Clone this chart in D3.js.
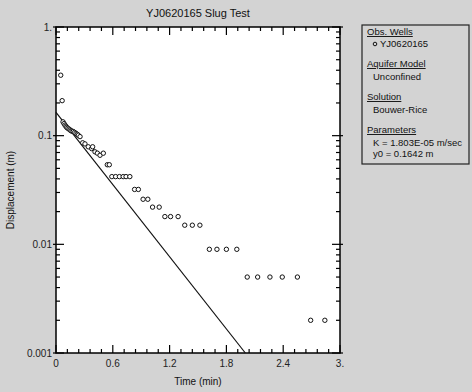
<!DOCTYPE html>
<html><head><meta charset="utf-8">
<script src="https://cdn.jsdelivr.net/npm/d3@7"></script>
<style>
html,body{margin:0;padding:0;background:#d3d3d3;}
svg{display:block;font-family:"Liberation Sans Narrow","Liberation Sans",Arial,sans-serif;}
</style></head><body>
<script>
const title = "YJ0620165 Slug Test";
const xLabel = "Time (min)";
const yLabel = "Displacement (m)";
const xTicks = [0, 0.6, 1.2, 1.8, 2.4, 3];
const xTickLabels = ["0", "0.6", "1.2", "1.8", "2.4", "3."];
const yTicks = [0.001, 0.01, 0.1, 1];
const yTickLabels = ["0.001", "0.01", "0.1", "1."];
const timeMin = [0.05, 0.065, 0.074, 0.085, 0.095, 0.105, 0.113, 0.125, 0.137, 0.148, 0.158, 0.17, 0.183, 0.197, 0.211, 0.224, 0.236, 0.254,
  0.282, 0.306, 0.341, 0.377, 0.387, 0.412, 0.437, 0.465, 0.5, 0.542, 0.563,
  0.59, 0.63, 0.67, 0.71, 0.74, 0.78, 0.83, 0.87, 0.92, 0.97, 1.02, 1.09,
  1.15, 1.21, 1.29, 1.36, 1.44, 1.52, 1.62, 1.70, 1.80, 1.91,
  2.02, 2.13, 2.26, 2.39, 2.55, 2.69, 2.84];
const displacement = [0.36, 0.21, 0.134, 0.129, 0.125, 0.122, 0.119, 0.117, 0.115, 0.113, 0.111, 0.11, 0.109, 0.107, 0.105, 0.103, 0.101, 0.098,
  0.086, 0.084, 0.079, 0.076, 0.079, 0.071, 0.069, 0.066, 0.069, 0.054, 0.054,
  0.042, 0.042, 0.042, 0.042, 0.042, 0.042, 0.032, 0.032, 0.026, 0.026, 0.022, 0.022,
  0.018, 0.018, 0.018, 0.015, 0.015, 0.015, 0.009, 0.009, 0.009, 0.009,
  0.005, 0.005, 0.005, 0.005, 0.005, 0.002, 0.002];
const fitTime = [0, 2.0];
const fitDisp = [0.1642, 0.001];
const legendLines = [
  {text: "Obs. Wells", head: true},
  {text: "YJ0620165", marker: true},
  {text: "Aquifer Model", head: true},
  {text: "Unconfined"},
  {text: "Solution", head: true},
  {text: "Bouwer-Rice"},
  {text: "Parameters", head: true},
  {text: "K  = 1.803E-05 m/sec"},
  {text: "y0 = 0.1642 m"}
];

const W = 472, H = 392;
const m = {l: 56, t: 27, r: 340, b: 353};
const svg = d3.select("body").append("svg").attr("width", W).attr("height", H);
svg.append("rect").attr("width", W).attr("height", H).attr("fill", "#d3d3d3");

const x = d3.scaleLinear().domain([0, 3]).range([m.l, m.r]);
const y = d3.scaleLog().domain([0.001, 1]).range([m.b, m.t]);

svg.append("rect").attr("x", m.l).attr("y", m.t).attr("width", m.r - m.l).attr("height", m.b - m.t).attr("fill", "#fff");

// ticks
const xMinor = d3.range(0, 3.0001, 0.12).map(v => +v.toFixed(2));
const yMinor = [];
[0.001, 0.01, 0.1].forEach(d => { for (let k = 1; k <= 9; k++) yMinor.push(d * k); });
yMinor.push(1);
const tg = svg.append("g").attr("stroke", "#000").attr("stroke-width", 1.2);
xMinor.forEach(v => {
  const major = xTicks.some(t => Math.abs(t - v) < 1e-6);
  const len = major ? 8 : 4;
  tg.append("line").attr("x1", x(v)).attr("x2", x(v)).attr("y1", m.b).attr("y2", m.b - len);
  tg.append("line").attr("x1", x(v)).attr("x2", x(v)).attr("y1", m.t).attr("y2", m.t + len);
});
yMinor.forEach(v => {
  const major = yTicks.some(t => Math.abs(Math.log10(t) - Math.log10(v)) < 1e-6);
  const len = major ? 8 : 4;
  tg.append("line").attr("x1", major ? m.l - 3 : m.l).attr("x2", m.l + len).attr("y1", y(v)).attr("y2", y(v));
  tg.append("line").attr("x1", major ? m.r + 3 : m.r).attr("x2", m.r - len).attr("y1", y(v)).attr("y2", y(v));
});
svg.append("rect").attr("x", m.l).attr("y", m.t).attr("width", m.r - m.l).attr("height", m.b - m.t)
  .attr("fill", "none").attr("stroke", "#000").attr("stroke-width", 1.5);

// tick labels
xTicks.forEach((v, i) => {
  svg.append("text").attr("x", x(v)).attr("y", m.b + 14).attr("text-anchor", "middle")
    .attr("font-size", 10).attr("fill", "#222").text(xTickLabels[i]);
});
yTicks.forEach((v, i) => {
  svg.append("text").attr("x", m.l - 4).attr("y", y(v) + 3.5).attr("text-anchor", "end")
    .attr("font-size", 10).attr("fill", "#222").text(yTickLabels[i]);
});

svg.append("text").attr("x", (m.l + m.r) / 2).attr("y", 17).attr("text-anchor", "middle")
  .attr("font-size", 11).attr("fill", "#111").text(title);
svg.append("text").attr("x", (m.l + m.r) / 2).attr("y", 385).attr("text-anchor", "middle")
  .attr("font-size", 10).attr("fill", "#111").text(xLabel);
svg.append("text").attr("transform", `translate(14,${(m.t + m.b) / 2}) rotate(-90)`).attr("text-anchor", "middle")
  .attr("font-size", 10).attr("fill", "#111").text(yLabel);

// fit line
svg.append("path").datum(fitTime.map((t, i) => [t, fitDisp[i]]))
  .attr("d", d3.line().x(d => x(d[0])).y(d => y(d[1])))
  .attr("fill", "none").attr("stroke", "#111").attr("stroke-width", 1.2);

// points
svg.append("g").selectAll("circle").data(timeMin.map((t, i) => [t, displacement[i]])).join("circle")
  .attr("cx", d => x(d[0])).attr("cy", d => y(d[1])).attr("r", 2.2)
  .attr("fill", "#fff").attr("stroke", "#111").attr("stroke-width", 1);

// legend
const lg = svg.append("g");
lg.append("rect").attr("x", 362).attr("y", 25).attr("width", 107).attr("height", 139)
  .attr("fill", "none").attr("stroke", "#222").attr("stroke-width", 1.2);
const ys = [35, 47, 67, 80, 100, 113, 133, 146, 157];
legendLines.forEach((d, i) => {
  const tx = d.head ? 367 : 373;
  const t = lg.append("text").attr("x", d.marker ? 380 : tx).attr("y", ys[i]).attr("font-size", 9.5).attr("fill", "#111").text(d.text);
  if (d.head) t.attr("text-decoration", "underline");
  if (d.marker) lg.append("circle").attr("cx", 375).attr("cy", ys[i] - 3).attr("r", 1.8).attr("fill", "none").attr("stroke", "#111");
});
</script>
</body></html>
